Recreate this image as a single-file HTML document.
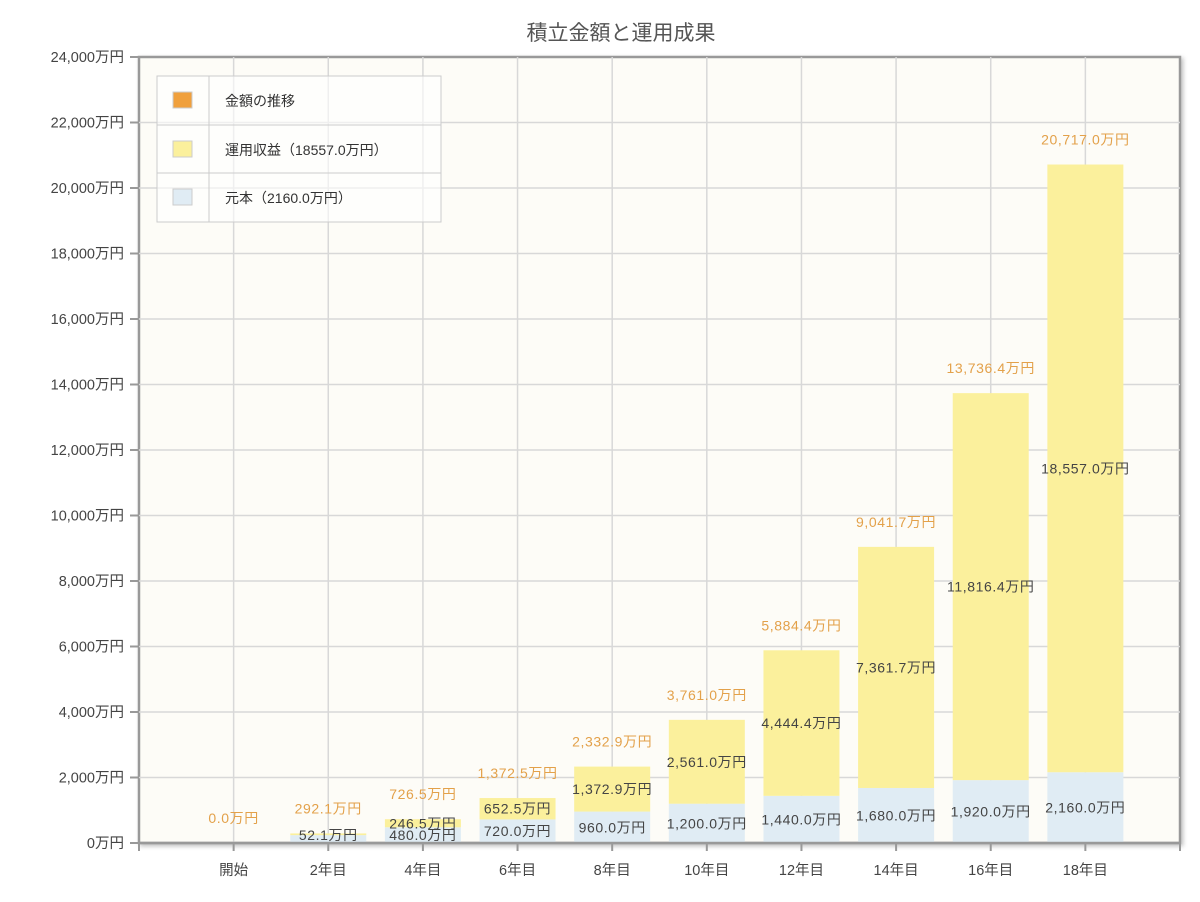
<!DOCTYPE html>
<html><head><meta charset="utf-8"><style>
html,body{margin:0;padding:0;background:#fff;}
svg text{font-family:"Liberation Sans","Noto Sans CJK JP",sans-serif;}
</style></head><body>
<svg id="chart" width="1200" height="897" xmlns="http://www.w3.org/2000/svg">
<defs><filter id="sh" x="-5%" y="-5%" width="110%" height="110%"><feDropShadow dx="2" dy="2" stdDeviation="2" flood-color="#000" flood-opacity="0.25"/></filter></defs>
<text x="621" y="40" text-anchor="middle" font-size="21" fill="#555">積立金額と運用成果</text>
<rect x="139" y="57" width="1041" height="786" fill="#fdfcf7" stroke="#999" stroke-width="2.5" filter="url(#sh)"/>
<g id="grid"></g>
<g id="bars"></g>
<g id="labels"></g>
<g id="axes"></g>
<g>
<rect x="157" y="76" width="284" height="146" fill="#fff" fill-opacity="0.6" stroke="#ccc" stroke-width="1"/>
<line x1="209" y1="76" x2="209" y2="222" stroke="#ccc"/>
<line x1="157" y1="125" x2="441" y2="125" stroke="#ccc"/>
<line x1="157" y1="173" x2="441" y2="173" stroke="#ccc"/>
<g><rect x="173" y="92" width="19" height="16" fill="#f0a03c" stroke="#ccc"/><text x="225" y="106" font-size="14" fill="#333">金額の推移</text></g>
<g><rect x="173" y="141" width="19" height="16" fill="#fbf09c" stroke="#ccc"/><text x="225" y="155" font-size="14" fill="#333">運用収益（18557.0万円）</text></g>
<g><rect x="173" y="189" width="19" height="16" fill="#e0ecf4" stroke="#ccc"/><text x="225" y="203" font-size="14" fill="#333">元本（2160.0万円）</text></g>
</g>
</svg>
<script>
const categories=["開始","2年目","4年目","6年目","8年目","10年目","12年目","14年目","16年目","18年目"];
const principal=[0,240,480,720,960,1200,1440,1680,1920,2160];
const profit=[0,52.1,246.5,652.5,1372.9,2561.0,4444.4,7361.7,11816.4,18557.0];
const yTicks=[0,2000,4000,6000,8000,10000,12000,14000,16000,18000,20000,22000,24000];
const NS="http://www.w3.org/2000/svg";
const L=139,R=1180,T=57,B=843,YMAX=24000,STEP=(R-L)/(categories.length+1),BW=76;
const y=v=>B-(v/YMAX)*(B-T);
const x=i=>L+STEP*(i+1);
function mk(tag,attrs,parent,txt){const e=document.createElementNS(NS,tag);for(const k in attrs)e.setAttribute(k,attrs[k]);if(txt!==undefined)e.textContent=txt;document.getElementById(parent).appendChild(e);return e;}
const fmt=v=>v.toLocaleString("en-US",{minimumFractionDigits:1,maximumFractionDigits:1})+"万円";
yTicks.forEach(t=>{
  if(t>0&&t<YMAX){const g=mk("line",{x1:L,x2:R,y1:y(t),y2:y(t),stroke:"#d8d8d8","stroke-width":1.5},"grid");
  
  }
  const tk=mk("line",{x1:L-9,x2:L,y1:y(t),y2:y(t),stroke:"#999","stroke-width":2},"axes");
  
  
  const lb=mk("text",{x:L-15,y:y(t)+5,"text-anchor":"end","font-size":14.5,fill:"#444"},"axes",t.toLocaleString("en-US")+"万円");
  
  
});
categories.forEach((c,i)=>{
  const g=mk("line",{x1:x(i),x2:x(i),y1:T,y2:B,stroke:"#d8d8d8","stroke-width":1.5},"grid");
  
  
  const lb=mk("text",{x:x(i),y:875,"text-anchor":"middle","font-size":14.5,fill:"#444"},"axes",c);
  
  
});
for(let k=0;k<=categories.length+1;k++){
  const tk=mk("line",{x1:L+STEP*k,x2:L+STEP*k,y1:B,y2:B+8,stroke:"#999","stroke-width":2},"axes");
  
  
}
const ax=mk("line",{x1:L,x2:R,y1:B,y2:B,stroke:"#999","stroke-width":2.5},"axes");


categories.forEach((c,i)=>{
  const p=principal[i],q=profit[i],tot=p+q,cx=x(i);
  const showP=p>0&&B-y(p)>10;
  if(p>0){const r=mk("rect",{x:cx-BW/2,y:y(p),width:BW,height:B-y(p),fill:"#e0ecf4"},"bars");
  
  }
  if(q>0){const r=mk("rect",{x:cx-BW/2,y:y(tot),width:BW,height:y(p)-y(tot),fill:"#fbf09c"},"bars");
  
  }
  const t=mk("text",{x:cx,y:y(tot)-20,"text-anchor":"middle","font-size":14,fill:"#e3a14a","letter-spacing":"0.6"},"labels",fmt(tot));
  
  
  if(q>0){const h=y(p)-y(tot);const ly=(h<14)?(showP?y(p)+1:B-3):(h<20?y(tot)+9:(y(p)+y(tot))/2+5);
  const lq=mk("text",{x:cx,y:ly,"text-anchor":"middle","font-size":14,fill:"#444","letter-spacing":"0.6"},"labels",fmt(q));
  
  }
  if(showP){const lp=mk("text",{x:cx,y:(B+y(p))/2+5,"text-anchor":"middle","font-size":14,fill:"#444","letter-spacing":"0.6"},"labels",fmt(p));
  
  }
});
</script>
</body></html>
